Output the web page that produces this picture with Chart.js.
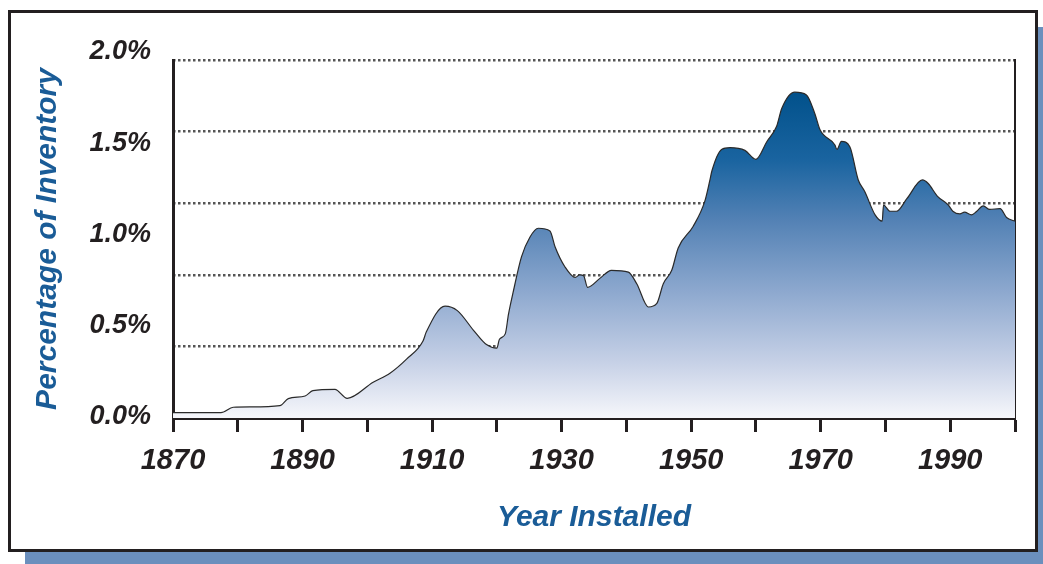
<!DOCTYPE html>
<html>
<head>
<meta charset="utf-8">
<script src="https://cdn.jsdelivr.net/npm/chart.js@4.4.1/dist/chart.umd.min.js"></script>
<style>
  body { margin: 0; background: #fff; overflow: hidden; }
  #shadow { position: absolute; left: 25px; top: 27px; width: 1030px; height: 550px; background: #6b8fbd; }
  #frame { position: absolute; left: 8px; top: 10px; width: 1030px; height: 542px; box-sizing: border-box;
           border: 3px solid #231f20; background: #fff; }
  #chart { position: absolute; left: 0; top: 0; }
</style>
</head>
<body>
<div id="shadow"></div>
<div id="frame"></div>
<canvas id="chart" width="1043" height="564"></canvas>
<script>
// data (year installed, % of inventory)
const years = [1870, 1877.4, 1879.3, 1882, 1886.5, 1887.8, 1890.4, 1891.6, 1895, 1896.9,
  1900.9, 1903.5, 1906.1, 1908.6, 1909.1, 1912, 1913.9, 1916.4, 1918.4, 1920,
  1920.4, 1921.3, 1921.8, 1922.5, 1923.8, 1925.1, 1926.4, 1928.2, 1929, 1930.5,
  1932.1, 1932.8, 1933.4, 1934, 1935.9, 1937.7, 1940.3, 1941.6, 1943.4, 1944.7,
  1945.7, 1947, 1948, 1950.3, 1952.1, 1952.9, 1953.2, 1954.7, 1956, 1958.3,
  1960, 1961.7, 1963.2, 1964, 1966, 1967.8, 1969.1, 1969.9, 1972.2, 1972.5,
  1973.2, 1974.5, 1975.8, 1976.8, 1978.4, 1979.5, 1979.7, 1980.7, 1981.7, 1983.3,
  1985.7, 1986.6, 1988, 1989.7, 1990.4, 1991.5, 1992.2, 1993.3, 1994.1, 1995.1,
  1996.1, 1997.7, 1998.7, 2000];
const shares = [0.03, 0.03, 0.06, 0.062, 0.069, 0.108, 0.123, 0.153, 0.16, 0.11,
  0.20, 0.25, 0.33, 0.43, 0.48, 0.625, 0.60, 0.49, 0.41, 0.39,
  0.44, 0.47, 0.58, 0.70, 0.90, 1.01, 1.06, 1.045, 0.955, 0.845,
  0.785, 0.80, 0.795, 0.73, 0.78, 0.825, 0.815, 0.75, 0.62, 0.64,
  0.75, 0.825, 0.95, 1.07, 1.21, 1.33, 1.38, 1.50, 1.51, 1.495,
  1.445, 1.545, 1.63, 1.73, 1.82, 1.805, 1.70, 1.61, 1.525, 1.50,
  1.545, 1.515, 1.33, 1.265, 1.135, 1.10, 1.19, 1.155, 1.155, 1.225,
  1.33, 1.31, 1.24, 1.19, 1.155, 1.14, 1.15, 1.135, 1.155, 1.185,
  1.165, 1.17, 1.12, 1.10];

const gridTicks = [0.4, 0.8, 1.2, 1.6, 2.0];   // dotted lines
const labelTicks = [0, 0.5, 1.0, 1.5, 2.0];    // printed percentages
const xLabelYears = [1870, 1890, 1910, 1930, 1950, 1970, 1990];

const dark = '#231f20';
const titleBlue = '#1a5c97';
Chart.defaults.font.family = '"Liberation Sans", Arial, sans-serif';

function areaFill(context) {
    const chart = context.chart;
    const area = chart.chartArea;
    if (!area) return null;
    const g = chart.ctx.createLinearGradient(0, area.top, 0, area.bottom);
    g.addColorStop(0.08, '#00508a');
    g.addColorStop(0.28, '#1a64a0');
    g.addColorStop(0.45, '#5482b5');
    g.addColorStop(0.65, '#8ea9cf');
    g.addColorStop(0.85, '#c8d2e7');
    g.addColorStop(1, '#f6f7fb');
    return g;
}

new Chart(document.getElementById('chart'), {
    type: 'line',
    data: {
        datasets: [{
            data: years.map((yr, i) => ({ x: yr, y: shares[i] })),
            borderColor: '#2a2a2a',
            borderWidth: 1.2,
            backgroundColor: areaFill,
            fill: 'origin',
            pointRadius: 0,
            cubicInterpolationMode: 'monotone'
        }]
    },
    options: {
        responsive: false,
        animation: false,
        devicePixelRatio: 1,
        layout: { padding: { top: 60, left: 0, right: 0, bottom: 0 } },
        plugins: { legend: { display: false }, tooltip: { enabled: false } },
        scales: {
            x: {
                type: 'linear',
                min: 1870,
                max: 2000,
                afterFit: s => { s.height = 146; },
                ticks: {
                    stepSize: 10,
                    autoSkip: false,
                    maxRotation: 0,
                    padding: 12,
                    color: dark,
                    font: { size: 29, weight: 'bold', style: 'italic' },
                    callback: v => xLabelYears.includes(v) ? String(v) : ''
                },
                grid: { drawOnChartArea: false, drawTicks: true, tickLength: 14, tickWidth: 3, tickColor: dark },
                border: { display: true, color: dark, width: 3 },
                title: {
                    display: true,
                    text: 'Year Installed',
                    color: titleBlue,
                    font: { size: 30, weight: 'bold', style: 'italic' },
                    padding: { top: 0, bottom: 28 }
                }
            },
            y: {
                position: 'right',
                min: 0,
                max: 2.0,
                afterFit: s => { s.width = 28; },
                afterBuildTicks: s => { s.ticks = gridTicks.map(v => ({ value: v })); },
                ticks: { display: false },
                grid: { color: '#555', lineWidth: 2.5, drawTicks: false },
                border: { display: true, color: dark, width: 2, dash: [2.5, 2.5] }
            },
            y2: {
                position: 'left',
                min: -0.0082,
                max: 1.956,
                afterFit: s => { s.width = 173; },
                afterBuildTicks: s => { s.ticks = labelTicks.map(v => ({ value: v })); },
                ticks: {
                    padding: 22,
                    color: dark,
                    font: { size: 27, weight: 'bold', style: 'italic' },
                    callback: v => v.toFixed(1) + '%'
                },
                grid: { display: false, drawTicks: false },
                border: { display: true, color: dark, width: 3 },
                title: {
                    display: true,
                    text: 'Percentage of Inventory',
                    color: titleBlue,
                    font: { size: 30, weight: 'bold', style: 'italic' },
                    padding: { top: 30, bottom: 0 }
                }
            }
        }
    }
});
</script>
</body>
</html>
